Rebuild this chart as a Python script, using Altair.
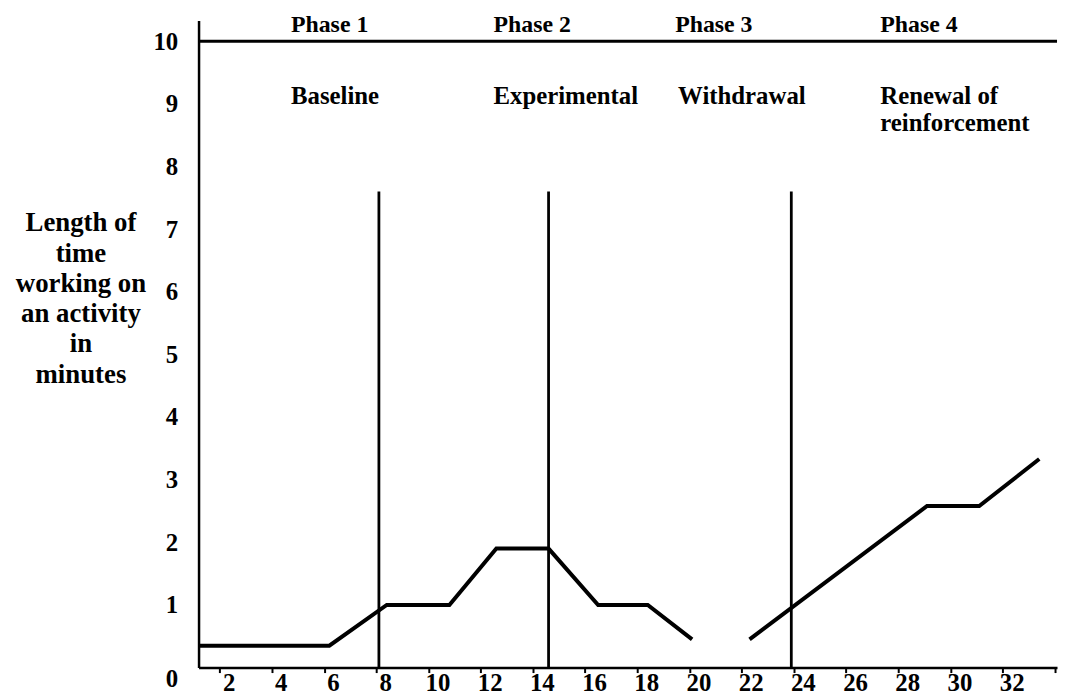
import altair as alt
import pandas as pd

# ---- data ----
session = [1.2, 6.2, 8.4, 10.8, 12.6, 14.6, 16.5, 18.4, 20.1, 22.3, 29.1, 31.1, 33.4]
minutes = [0.35, 0.35, 1.0, 1.0, 1.9, 1.9, 1.0, 1.0, 0.45, 0.45, 2.58, 2.58, 3.33]
segment = ["a"] * 9 + ["b"] * 4

phase_boundaries = [8.1, 14.6, 23.9]
boundary_top = 7.6

top_line_y = [10]
top_line_x0 = [1.19]
top_line_x1 = [34.08]

phase_titles = ["Phase 1", "Phase 2", "Phase 3", "Phase 4"]
phase_title_x = [4.73, 12.49, 19.45, 27.31]
phase_title_y = [10.14, 10.14, 10.14, 10.14]

phase_names = ["Baseline", "Experimental", "Withdrawal", "Renewal of", "reinforcement"]
phase_name_x = [4.73, 12.49, 19.56, 27.31, 27.31]
phase_name_y = [8.99, 8.99, 8.99, 8.99, 8.57]

x_ticks = list(range(2, 35, 2))
y_ticks = list(range(0, 11))
y_title = ["Length of", "time", "working on", "an activity", "in", "minutes"]

FONT = "Liberation Serif"

df_line = pd.DataFrame({"session": session, "minutes": minutes, "segment": segment})
df_bound = pd.DataFrame({"x": phase_boundaries, "y0": [0] * 3, "y1": [boundary_top] * 3})
df_top = pd.DataFrame({"x0": top_line_x0, "x1": top_line_x1, "y": top_line_y})
df_pt = pd.DataFrame({"x": phase_title_x, "y": phase_title_y, "t": phase_titles})
df_pn = pd.DataFrame({"x": phase_name_x, "y": phase_name_y, "t": phase_names})

xscale = alt.Scale(domain=[1.19, 34.08], nice=False, zero=False)
yscale = alt.Scale(domain=[0, 10.33], nice=False, zero=False)

x_axis = alt.Axis(
    values=x_ticks,
    labelExpr="datum.value == 34 ? '' : datum.label",
    title=None,
    grid=False,
    labelFont=FONT,
    labelFontWeight="bold",
    labelFontSize=25,
    labelColor="black",
    labelOffset=9,
    labelPadding=-2,
    tickSize=5,
    tickWidth=2,
    tickColor="black",
    domainColor="black",
    domainWidth=2.5,
    labelFlush=False,
    labelOverlap=False,
)

y_axis = alt.Axis(
    values=y_ticks,
    format="d",
    title=y_title,
    titleAngle=0,
    titleAlign="center",
    titleBaseline="alphabetic",
    titleX=-119,
    titleY=212,
    titleFont=FONT,
    titleFontWeight="bold",
    titleFontSize=27,
    titleLineHeight=30.5,
    titleColor="black",
    grid=False,
    ticks=False,
    labelFont=FONT,
    labelFontWeight="bold",
    labelFontSize=25,
    labelColor="black",
    labelPadding=21,
    labelOffset=alt.condition("datum.value == 0", alt.value(11), alt.value(0)),
    domainColor="black",
    domainWidth=2.5,
    labelFlush=False,
    labelOverlap=False,
)

line = alt.Chart(df_line).mark_line(color="black", strokeWidth=4, strokeJoin="miter").encode(
    x=alt.X("session:Q", scale=xscale, axis=x_axis),
    y=alt.Y("minutes:Q", scale=yscale, axis=y_axis),
    detail="segment:N",
)

bounds = alt.Chart(df_bound).mark_rule(color="black", strokeWidth=2.8).encode(
    x=alt.X("x:Q", scale=xscale),
    y=alt.Y("y0:Q", scale=yscale),
    y2="y1:Q",
)

top = alt.Chart(df_top).mark_rule(color="black", strokeWidth=3).encode(
    x=alt.X("x0:Q", scale=xscale),
    x2="x1:Q",
    y=alt.Y("y:Q", scale=yscale),
)

pt = alt.Chart(df_pt).mark_text(
    align="left", baseline="alphabetic", font=FONT, fontWeight="bold", fontSize=24, color="black"
).encode(x=alt.X("x:Q", scale=xscale), y=alt.Y("y:Q", scale=yscale), text="t:N")

pn = alt.Chart(df_pn).mark_text(
    align="left", baseline="alphabetic", font=FONT, fontWeight="bold", fontSize=25, color="black"
).encode(x=alt.X("x:Q", scale=xscale), y=alt.Y("y:Q", scale=yscale), text="t:N")

chart = alt.layer(line, bounds, top, pt, pn).properties(
    width=865,
    height=652,
    padding={"left": 192, "top": 10, "right": 2, "bottom": 27},
    autosize=alt.AutoSizeParams(type="none"),
    background="white",
).configure_view(stroke=None)

chart.save("out.html", embed_options={"renderer": "svg", "actions": False})
